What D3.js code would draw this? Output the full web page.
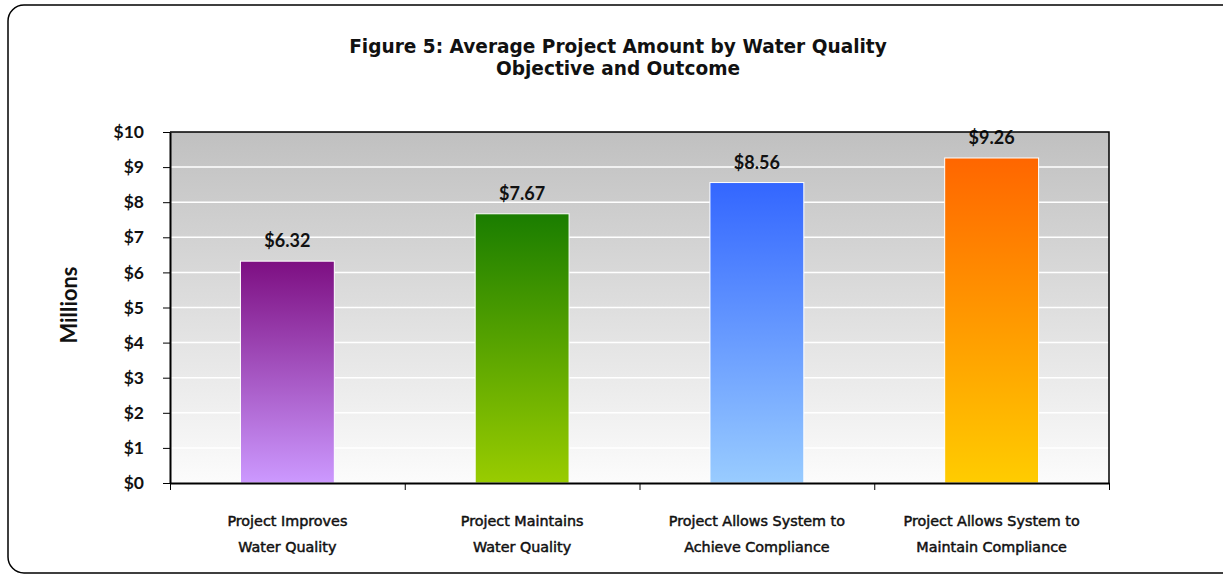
<!DOCTYPE html>
<html><head><meta charset="utf-8">
<script src="https://cdn.jsdelivr.net/npm/d3@7"></script>
<style>body{margin:0;background:#fff;} svg{display:block;}</style>
</head><body>
<svg id="c" width="1223" height="575"></svg>
<script>
const categories = [["Project Improves","Water Quality"],["Project Maintains","Water Quality"],["Project Allows System to","Achieve Compliance"],["Project Allows System to","Maintain Compliance"]];
const values = [6.32, 7.67, 8.56, 9.26];
const valueLabels = ["$6.32","$7.67","$8.56","$9.26"];
const yTicks = [0,1,2,3,4,5,6,7,8,9,10];
const titleLines = ["Figure 5: Average Project Amount by Water Quality","Objective and Outcome"];
const yTitle = "Millions";
const barColors = [["#7d0f82","#cc99ff"],["#1a7d00","#99cc00"],["#3366ff","#99ccff"],["#ff6600","#ffcc00"]];

const svg = d3.select("#c");
const m = {left:170, right:1109, top:132, bottom:483};
const x = d3.scaleBand().domain(d3.range(categories.length)).range([m.left, m.right]).paddingInner(0.6).paddingOuter(0.3);
const y = d3.scaleLinear().domain([0,10]).range([m.bottom, m.top]);

function fitSize(node, target, base){
  const w = node.getComputedTextLength();
  d3.select(node).attr("font-size", (base*target/w).toFixed(2));
}

const defs = svg.append("defs");
const bg = defs.append("linearGradient").attr("id","bg").attr("x1",0).attr("y1",0).attr("x2",0).attr("y2",1);
bg.append("stop").attr("offset","0%").attr("stop-color","#c0c0c0");
bg.append("stop").attr("offset","100%").attr("stop-color","#fcfcfc");
barColors.forEach((c,i)=>{
  const g = defs.append("linearGradient").attr("id","g"+i).attr("x1",0).attr("y1",0).attr("x2",0).attr("y2",1);
  g.append("stop").attr("offset","0%").attr("stop-color",c[0]);
  g.append("stop").attr("offset","100%").attr("stop-color",c[1]);
});

// outer border
svg.append("rect").attr("x",8).attr("y",5).attr("width",1240).attr("height",568).attr("rx",16).attr("ry",16)
  .attr("fill","#fff").attr("stroke","#000").attr("stroke-width",1.5);

// plot area
svg.append("rect").attr("x",m.left).attr("y",m.top).attr("width",m.right-m.left).attr("height",m.bottom-m.top).attr("fill","url(#bg)");

// gridlines
svg.append("g").selectAll("line").data(yTicks.filter(d=>d>0 && d<10)).join("line")
  .attr("x1",m.left).attr("x2",m.right).attr("y1",d=>y(d)).attr("y2",d=>y(d))
  .attr("stroke","#fff").attr("stroke-width",1.5);

// bars
svg.append("g").selectAll("rect").data(values).join("rect")
  .attr("x",(d,i)=>x(i)).attr("width",x.bandwidth())
  .attr("y",d=>y(d)).attr("height",d=>y(0)-y(d))
  .attr("fill",(d,i)=>"url(#g"+i+")").attr("stroke","#fff").attr("stroke-width",1);

// value labels
svg.append("g").selectAll("text").data(values).join("text")
  .attr("x",(d,i)=>x(i)+x.bandwidth()/2).attr("y",d=>y(d)-14)
  .attr("text-anchor","middle").attr("font-family","Lato").attr("font-weight","bold")
  .attr("font-size",18).attr("fill","#111").text((d,i)=>valueLabels[i]);

// plot frame top/right
svg.append("path").attr("d",`M${m.left},${m.top}H${m.right}V${m.bottom}`).attr("fill","none").attr("stroke","#000").attr("stroke-width",1.5);

// y axis
const ya = svg.append("g").attr("transform",`translate(${m.left},0)`)
  .call(d3.axisLeft(y).tickValues(yTicks).tickSize(7).tickSizeOuter(0).tickFormat(d=>"$"+d));
ya.select(".domain").attr("stroke","#000").attr("stroke-width",2);
ya.selectAll(".tick line").attr("stroke","#000").attr("stroke-width",1);
ya.selectAll("text").attr("font-family","Lato").attr("font-weight","bold").attr("font-size",17.5).attr("fill","#111").attr("x",-26);

// x axis
const xb = d3.scaleLinear().domain([0,categories.length]).range([m.left,m.right]);
const xa = svg.append("g").attr("transform",`translate(0,${m.bottom})`)
  .call(d3.axisBottom(xb).tickValues(d3.range(categories.length+1)).tickSize(7).tickSizeOuter(0).tickFormat(""));
xa.select(".domain").attr("stroke","#000").attr("stroke-width",2);
xa.selectAll(".tick line").attr("stroke","#000").attr("stroke-width",1);

// category labels
const cg = svg.append("g");
let catSize = null;
categories.forEach((d,i)=>{
  d.forEach((s,j)=>{
    const t = cg.append("text").attr("text-anchor","middle").attr("font-family","DejaVu Sans")
      .attr("font-size",13).attr("fill","#111").attr("stroke","#111").attr("stroke-width",0.5)
      .attr("x",x(i)+x.bandwidth()/2).attr("y",526+j*26).text(s);
    if(i===0 && j===0){ fitSize(t.node(),120,13); catSize = t.attr("font-size"); }
    else t.attr("font-size",catSize);
  });
});

// title
let tSize = null;
titleLines.forEach((s,j)=>{
  const t = svg.append("text").attr("text-anchor","middle").attr("font-family","DejaVu Sans").attr("font-weight","bold")
    .attr("font-size",17).attr("fill","#111")
    .attr("x",618).attr("y",53+j*22).text(s);
  if(j===0){ fitSize(t.node(),538,17); tSize = t.attr("font-size"); }
  else t.attr("font-size",tSize);
});

// y title
const yt = svg.append("text").attr("transform","translate(77,305) rotate(-90)").attr("text-anchor","middle")
  .attr("font-family","Lato").attr("font-weight","bold").attr("font-size",19).attr("fill","#111").text(yTitle);
fitSize(yt.node(), 77, 19);
</script>
</body></html>
